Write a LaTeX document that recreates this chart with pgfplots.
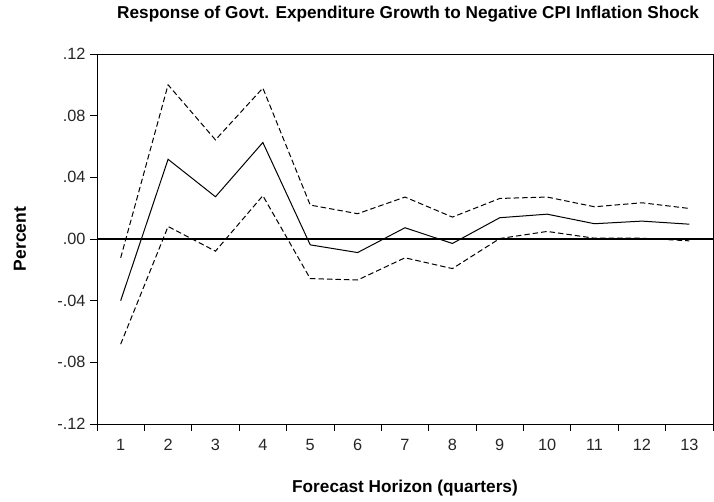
\documentclass[border=0pt]{standalone}
\usepackage{fontspec}
\setmainfont{Liberation Sans}
\usepackage{pgfplots}
\pgfplotsset{compat=1.18}
\begin{document}
\begin{tikzpicture}[x=1bp,y=1bp]
\begin{axis}[
  at={(0,0)}, anchor=south west,
  scale only axis, width=616bp, height=370bp,
  xmin=0.5, xmax=13.5, ymin=-0.12, ymax=0.12,
  axis line style={line width=0.9bp},
  xtick={1,2,3,4,5,6,7,8,9,10,11,12,13},
  xticklabels={1,2,3,4,5,6,7,8,9,10,11,12,13},
  major x tick style={draw=none},
  minor xtick={0.5,1.5,2.5,3.5,4.5,5.5,6.5,7.5,8.5,9.5,10.5,11.5,12.5,13.5},
  minor x tick style={line width=0.8bp, black},
  minor tick length=7bp,
  ytick={-0.12,-0.08,-0.04,0,0.04,0.08,0.12},
  yticklabels={-.12,-.08,-.04,.00,.04,.08,.12},
  major tick length=7bp,
  y tick style={line width=0.8bp, black},
  tick align=outside,
  xtick pos=lower, ytick pos=left,
  ticklabel style={font=\fontsize{16.3bp}{19bp}\selectfont, text=black!85},
  xticklabel style={yshift=-5bp},
  yticklabel style={xshift=-1bp},
  title={\bfseries Response of Govt. Expenditure Growth to Negative CPI Inflation Shock},
  title style={at={(axis description cs:0.505,1.092)}, anchor=center, font=\fontsize{17.2bp}{20bp}\selectfont},
  xlabel={\bfseries Forecast Horizon (quarters)},
  xlabel style={at={(axis description cs:0.5,-0.174)}, anchor=center, font=\fontsize{17.2bp}{20bp}\selectfont},
  ylabel={\bfseries Percent},
  ylabel style={at={(axis description cs:-0.125,0.5)}, anchor=center, rotate=0, font=\fontsize{17.5bp}{20bp}\selectfont},
]
\addplot[black, line width=1.5bp, forget plot] coordinates {(0.5,0) (13.5,0)};
\addplot[black, line width=1bp, dash pattern=on 5.5bp off 3bp] coordinates {
(1,-0.0122) (2,0.1000) (3,0.0643) (4,0.0979) (5,0.0220) (6,0.0164) (7,0.0272)
(8,0.0142) (9,0.0263) (10,0.0272) (11,0.0209) (12,0.0235) (13,0.0198)};
\addplot[black, line width=1bp] coordinates {
(1,-0.0400) (2,0.0517) (3,0.0274) (4,0.0626) (5,-0.0038) (6,-0.0088) (7,0.0073)
(8,-0.0029) (9,0.0138) (10,0.0161) (11,0.0099) (12,0.0116) (13,0.0096)};
\addplot[black, line width=1bp, dash pattern=on 5.5bp off 3bp] coordinates {
(1,-0.0682) (2,0.0081) (3,-0.0079) (4,0.0281) (5,-0.0257) (6,-0.0266) (7,-0.0122)
(8,-0.0192) (9,0.0003) (10,0.0049) (11,0.0005) (12,0.0005) (13,-0.0012)};
\end{axis}
\pgfresetboundingbox
\path[use as bounding box] (-97,-78) rectangle (617,424);
\end{tikzpicture}
\end{document}
